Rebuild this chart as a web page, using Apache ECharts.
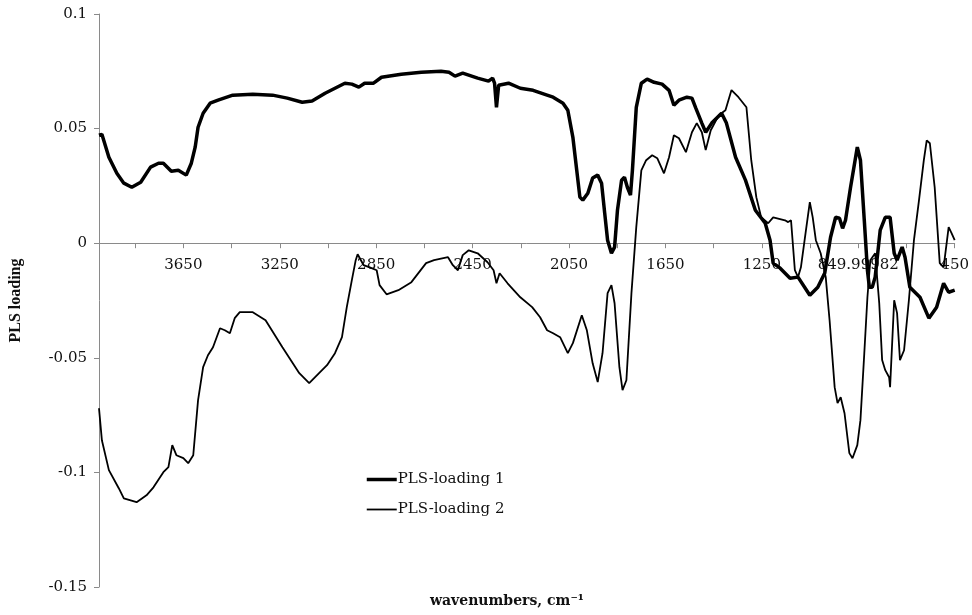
<!DOCTYPE html>
<html>
<head>
<meta charset="utf-8">
<script src="https://cdn.jsdelivr.net/npm/echarts@6/dist/echarts.min.js"></script>
<style>
  html, body { margin: 0; padding: 0; background: #fff; }
  #chart { width: 972px; height: 615px; }
</style>
</head>
<body>
<div id="chart"></div>
<script>
// PLS loadings versus wavenumber (cm-1), read as [wavenumber, loading]
const loading1 = [
  [4000, 0.0471], [3988, 0.0475], [3959, 0.0375], [3926, 0.0305], [3897, 0.0262],
  [3864, 0.0244], [3827, 0.0266], [3786, 0.0332], [3753, 0.0349], [3733, 0.0349],
  [3700, 0.0314], [3671, 0.0318], [3638, 0.0297], [3617, 0.0349], [3601, 0.0419],
  [3589, 0.0506], [3568, 0.0567], [3539, 0.0611], [3506, 0.0624], [3445, 0.0646],
  [3362, 0.0650], [3280, 0.0646], [3219, 0.0633], [3157, 0.0615], [3116, 0.0620],
  [3062, 0.0654], [2980, 0.0698], [2951, 0.0694], [2922, 0.0681], [2898, 0.0698],
  [2861, 0.0698], [2828, 0.0724], [2746, 0.0737], [2663, 0.0746], [2581, 0.0750],
  [2548, 0.0746], [2523, 0.0729], [2491, 0.0742], [2429, 0.0720], [2384, 0.0707],
  [2367, 0.0720], [2359, 0.0698], [2351, 0.0593], [2342, 0.0689], [2301, 0.0698],
  [2252, 0.0676], [2199, 0.0667], [2141, 0.0646], [2116, 0.0637], [2075, 0.0611],
  [2055, 0.0580], [2034, 0.0462], [2018, 0.0318], [2005, 0.0201], [1993, 0.0188],
  [1972, 0.0218], [1952, 0.0284], [1931, 0.0297], [1915, 0.0262], [1902, 0.0131],
  [1890, 0.0013], [1874, -0.0044], [1861, -0.0017], [1849, 0.0144], [1832, 0.0275],
  [1820, 0.0288], [1808, 0.0244], [1795, 0.0210], [1787, 0.0318], [1771, 0.0593],
  [1750, 0.0698], [1726, 0.0716], [1697, 0.0702], [1664, 0.0694], [1635, 0.0667],
  [1615, 0.0602], [1594, 0.0624], [1561, 0.0637], [1540, 0.0633], [1524, 0.0589],
  [1499, 0.0524], [1483, 0.0484], [1458, 0.0524], [1417, 0.0567], [1397, 0.0524],
  [1359, 0.0375], [1318, 0.0275], [1277, 0.0144], [1236, 0.0087], [1216, 0.0013],
  [1203, -0.0087], [1174, -0.0109], [1133, -0.0153], [1100, -0.0148], [1051, -0.0227],
  [1018, -0.0192], [989, -0.0130], [965, 0.0026], [944, 0.0113], [928, 0.0109],
  [915, 0.0065], [903, 0.0100], [882, 0.0244], [854, 0.0419], [841, 0.0362],
  [825, 0.0100], [812, -0.0118], [804, -0.0192], [792, -0.0192], [780, -0.0148],
  [759, 0.0057], [738, 0.0113], [718, 0.0113], [701, -0.0044], [689, -0.0074],
  [668, -0.0017], [656, -0.0061], [636, -0.0192], [594, -0.0236], [557, -0.0327],
  [525, -0.0279], [496, -0.0175], [475, -0.0214], [450, -0.0205]
];

const loading2 = [
  [4000, -0.0720], [3988, -0.0860], [3959, -0.0990], [3918, -0.1069], [3897, -0.1113],
  [3844, -0.1130], [3803, -0.1100], [3774, -0.1065], [3733, -0.0999], [3712, -0.0977],
  [3696, -0.0881], [3679, -0.0925], [3650, -0.0938], [3630, -0.0960], [3609, -0.0925],
  [3589, -0.0685], [3568, -0.0541], [3548, -0.0489], [3527, -0.0454], [3498, -0.0371],
  [3478, -0.0380], [3457, -0.0393], [3437, -0.0327], [3416, -0.0301], [3362, -0.0301],
  [3309, -0.0336], [3239, -0.0454], [3169, -0.0567], [3128, -0.0611], [3087, -0.0567],
  [3054, -0.0532], [3021, -0.0480], [2992, -0.0410], [2972, -0.0279], [2951, -0.0161],
  [2935, -0.0074], [2927, -0.0048], [2902, -0.0096], [2869, -0.0109], [2848, -0.0118],
  [2836, -0.0183], [2807, -0.0223], [2758, -0.0205], [2704, -0.0170], [2643, -0.0087],
  [2610, -0.0074], [2552, -0.0061], [2532, -0.0096], [2511, -0.0118], [2491, -0.0052],
  [2466, -0.0031], [2429, -0.0044], [2388, -0.0083], [2363, -0.0118], [2351, -0.0175],
  [2338, -0.0131], [2305, -0.0175], [2252, -0.0236], [2203, -0.0279], [2170, -0.0323],
  [2141, -0.0380], [2116, -0.0393], [2087, -0.0410], [2055, -0.0480], [2034, -0.0436],
  [1997, -0.0314], [1976, -0.0380], [1952, -0.0524], [1931, -0.0606], [1911, -0.0480],
  [1890, -0.0218], [1874, -0.0183], [1861, -0.0262], [1841, -0.0541], [1828, -0.0641],
  [1812, -0.0598], [1791, -0.0218], [1771, 0.0070], [1750, 0.0318], [1730, 0.0362],
  [1705, 0.0384], [1684, 0.0371], [1656, 0.0305], [1635, 0.0375], [1615, 0.0471],
  [1594, 0.0458], [1565, 0.0397], [1540, 0.0484], [1520, 0.0524], [1499, 0.0484],
  [1483, 0.0406], [1462, 0.0493], [1429, 0.0558], [1401, 0.0580], [1376, 0.0668],
  [1347, 0.0637], [1314, 0.0593], [1294, 0.0362], [1273, 0.0201], [1253, 0.0113],
  [1224, 0.0087], [1203, 0.0113], [1154, 0.0100], [1141, 0.0092], [1129, 0.0100],
  [1113, -0.0118], [1100, -0.0148], [1088, -0.0105], [1067, 0.0057], [1051, 0.0179],
  [1039, 0.0113], [1026, 0.0013], [1006, -0.0044], [985, -0.0148], [969, -0.0336],
  [948, -0.0628], [936, -0.0698], [923, -0.0672], [907, -0.0742], [887, -0.0916],
  [874, -0.0938], [854, -0.0881], [841, -0.0772], [825, -0.0480], [812, -0.0236],
  [800, -0.0074], [780, -0.0044], [763, -0.0262], [751, -0.0510], [738, -0.0554],
  [722, -0.0585], [718, -0.0628], [701, -0.0249], [689, -0.0305], [677, -0.0510],
  [660, -0.0467], [640, -0.0249], [619, 0.0013], [598, 0.0188], [578, 0.0362],
  [566, 0.0449], [553, 0.0436], [533, 0.0244], [512, -0.0087], [496, -0.0105],
  [475, 0.0070], [463, 0.0044], [450, 0.0013]
];

// Labelled wavenumber ticks and the text printed under each
const xLabelValues = [3650, 3250, 2850, 2450, 2050, 1650, 1250, 850, 450];
const xLabelTexts = ['3650', '3250', '2850', '2450', '2050', '1650', '1250', '849.99982', '450'];

const seriesNames = ['PLS-loading 1', 'PLS-loading 2'];
const lineWidths = [3.5, 1.8];

const serif = '"DejaVu Serif", "Liberation Serif", serif';
const axisGray = '#8a8a8a';

const yMin = -0.15, yMax = 0.1;
const gridTop = 14, gridBottom = 28, chartHeight = 615;

// The wavenumber axis sits on the zero line: shift it up from the grid bottom
const plotHeight = chartHeight - gridTop - gridBottom;
const zeroShift = plotHeight * (0 - yMin) / (yMax - yMin);

const chart = echarts.init(document.getElementById('chart'), null, { renderer: 'canvas' });

chart.setOption({
  backgroundColor: '#ffffff',
  animation: false,
  grid: { left: 95, right: 14, top: gridTop, bottom: gridBottom, containLabel: false },
  legend: {
    orient: 'vertical',
    left: 360,
    top: 467,
    itemWidth: 30,
    itemHeight: 14,
    itemGap: 15,
    data: seriesNames.map(function (n, i) {
      return { name: n, lineStyle: { width: lineWidths[i], color: '#000' } };
    }),
    itemStyle: { color: 'rgba(0,0,0,0)', borderWidth: 0 },
    textStyle: { fontFamily: serif, fontSize: 15, color: '#111', padding: [0, 0, 0, -4] }
  },
  xAxis: {
    type: 'value',
    inverse: true,
    min: 450,
    max: 4000,
    interval: 200,
    position: 'bottom',
    offset: -zeroShift,
    axisLine: { onZero: false, lineStyle: { color: axisGray, width: 1 } },
    axisTick: { show: true, length: 5, lineStyle: { color: axisGray } },
    splitLine: { show: false },
    axisLabel: {
      margin: 14,
      fontFamily: serif,
      fontSize: 15,
      color: '#111',
      showMinLabel: true,
      showMaxLabel: true,
      formatter: function (v) {
        const i = xLabelValues.indexOf(Math.round(v));
        return i >= 0 ? xLabelTexts[i] : '';
      }
    }
  },
  yAxis: {
    type: 'value',
    min: yMin,
    max: yMax,
    interval: 0.05,
    name: 'PLS loading',
    nameLocation: 'middle',
    nameRotate: 90,
    nameGap: 75,
    nameTextStyle: { fontFamily: '"Liberation Serif", serif', fontWeight: 'bold', fontSize: 16, color: '#111' },
    axisLine: { show: true, lineStyle: { color: axisGray, width: 1 } },
    axisTick: { show: true, length: 5, lineStyle: { color: axisGray } },
    splitLine: { show: false },
    axisLabel: {
      margin: 12,
      fontFamily: serif,
      fontSize: 15,
      color: '#111',
      formatter: function (v) { return String(Math.round(v * 100) / 100); }
    }
  },
  graphic: [{
    type: 'text',
    left: 430,
    top: 594,
    style: {
      text: 'wavenumbers, cm\u207B\u00B9',
      fontFamily: serif,
      fontWeight: 'bold',
      fontSize: 14,
      fill: '#111'
    }
  }],
  series: [
    {
      name: seriesNames[0],
      type: 'line',
      data: loading1,
      showSymbol: false,
      symbol: 'none',
      lineStyle: { color: '#000', width: lineWidths[0] },
      itemStyle: { color: '#000' },
      z: 3
    },
    {
      name: seriesNames[1],
      type: 'line',
      data: loading2,
      showSymbol: false,
      symbol: 'none',
      lineStyle: { color: '#000', width: lineWidths[1] },
      itemStyle: { color: '#000' },
      z: 2
    }
  ]
});
</script>
</body>
</html>
